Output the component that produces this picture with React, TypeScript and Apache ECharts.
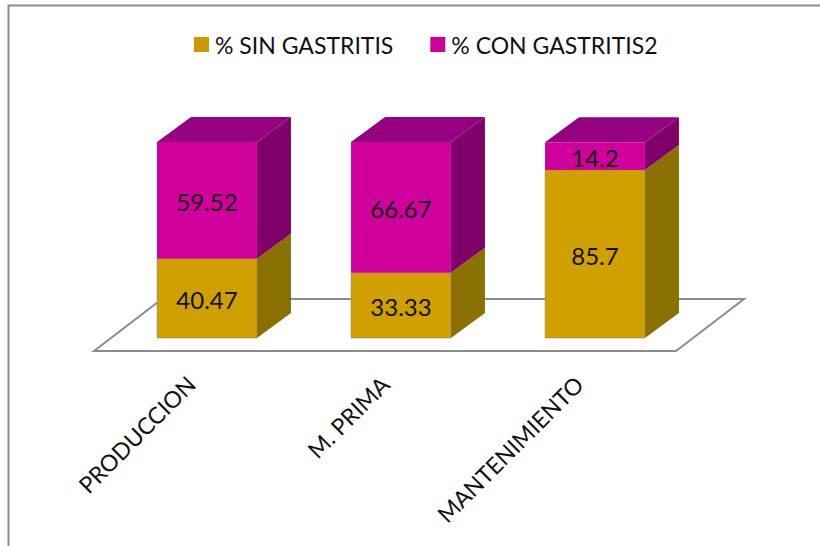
import React, { useEffect, useRef } from "react";
import * as echarts from "echarts";

const categories = ["PRODUCCION", "M. PRIMA", "MANTENIMIENTO"];
const sinGastritis = [40.47, 33.33, 85.7];
const conGastritis = [59.52, 66.67, 14.2];
const SIN_NAME = "% SIN GASTRITIS";
const CON_NAME = "% CON GASTRITIS2";
const FONT = "Lato";

const DEPTH_X = 34;
const DEPTH_Y = 25;
const SHIFT_X = 16;
const SHIFT_Y = 13;

function barRenderer(front: string, side: string, top: string | null) {
  return (params: any, api: any) => {
    const cat = api.value(0);
    const start = api.value(1);
    const end = api.value(2);
    const bottom = api.coord([cat, start]);
    const upper = api.coord([cat, end]);
    const width = api.size([1, 0])[0] * 0.515;
    const x0 = bottom[0] - width / 2 + SHIFT_X;
    const x1 = x0 + width;
    const y0 = bottom[1] - SHIFT_Y;
    const y1 = upper[1] - SHIFT_Y;
    const edge = "rgba(140,140,120,0.55)";
    const children: any[] = [
      {
        type: "polygon",
        shape: { points: [[x1, y0], [x1 + DEPTH_X, y0 - DEPTH_Y], [x1 + DEPTH_X, y1 - DEPTH_Y], [x1, y1]] },
        style: { fill: side },
      },
    ];
    if (top) {
      children.push({
        type: "polygon",
        shape: { points: [[x0, y1], [x0 + DEPTH_X, y1 - DEPTH_Y], [x1 + DEPTH_X, y1 - DEPTH_Y], [x1, y1]] },
        style: { fill: top },
      });
    }
    children.push({
      type: "rect",
      shape: { x: x0, y: y1, width, height: y0 - y1 },
      style: { fill: front, stroke: top ? "none" : edge, lineWidth: 1 },
    });
    children.push({
      type: "text",
      x: (x0 + x1) / 2,
      y: (y0 + y1) / 2 + 1,
      style: {
        text: String(Math.round((end - start) * 100) / 100),
        fill: "#111111",
        font: `24px ${FONT}`,
        align: "center",
        verticalAlign: "middle",
      },
    });
    return { type: "group", children };
  };
}

function floorRenderer(params: any) {
  const { x, y, width, height } = params.coordSys;
  const b = y + height;
  return {
    type: "polygon",
    shape: { points: [[x, b], [x + width, b], [x + width + 68, b - 52], [x + 68, b - 52]] },
    style: { fill: "#ffffff", stroke: "#8c8c8c", lineWidth: 2 },
  };
}

export default function App() {
  const ref = useRef<HTMLDivElement>(null);
  useEffect(() => {
    document.body.style.margin = "0";
    const chart = echarts.init(ref.current!, undefined, { renderer: "svg" });
    chart.setOption({
      animation: false,
      backgroundColor: "#ffffff",
      textStyle: { fontFamily: FONT },
      graphic: [
        {
          type: "polyline",
          shape: { points: [[8.5, 546], [8.5, 5.5], [820, 5.5]] },
          style: { fill: "none", stroke: "#8c8c8c", lineWidth: 2 },
          silent: true,
        },
      ],
      legend: {
        data: [SIN_NAME, CON_NAME],
        left: 189,
        top: 28,
        icon: "rect",
        itemWidth: 15,
        itemHeight: 15,
        itemGap: 37,
        textStyle: { fontSize: 23, fontFamily: FONT, color: "#111111", padding: [0, 0, 0, 1] },
      },
      grid: { left: 94, top: 155, width: 582, height: 196 },
      xAxis: {
        type: "category",
        data: categories,
        axisLine: { show: false },
        axisTick: { show: false },
        axisLabel: { rotate: 45, margin: 29, fontSize: 23, fontFamily: FONT, color: "#111111", interval: 0 },
      },
      yAxis: { type: "value", min: 0, max: 100, show: false, splitLine: { show: false } },
      series: [
        {
          type: "custom",
          name: "floor",
          silent: true,
          renderItem: floorRenderer,
          data: [[0, 0]],
          encode: { x: 0, y: 1 },
        },
        {
          type: "custom",
          name: SIN_NAME,
          itemStyle: { color: "#cc9900" },
          renderItem: barRenderer("#cfa000", "#8a7000", null),
          data: sinGastritis.map((v, i) => [i, 0, v]),
          encode: { x: 0, y: [1, 2] },
        },
        {
          type: "custom",
          name: CON_NAME,
          itemStyle: { color: "#cc0099" },
          renderItem: barRenderer("#d0009c", "#80006a", "#950080"),
          data: conGastritis.map((v, i) => [i, sinGastritis[i], sinGastritis[i] + v]),
          encode: { x: 0, y: [1, 2] },
        },
      ],
    });
    return () => chart.dispose();
  }, []);
  return <div ref={ref} style={{ position: "fixed", left: 0, top: 0, width: 820, height: 546 }} />;
}
